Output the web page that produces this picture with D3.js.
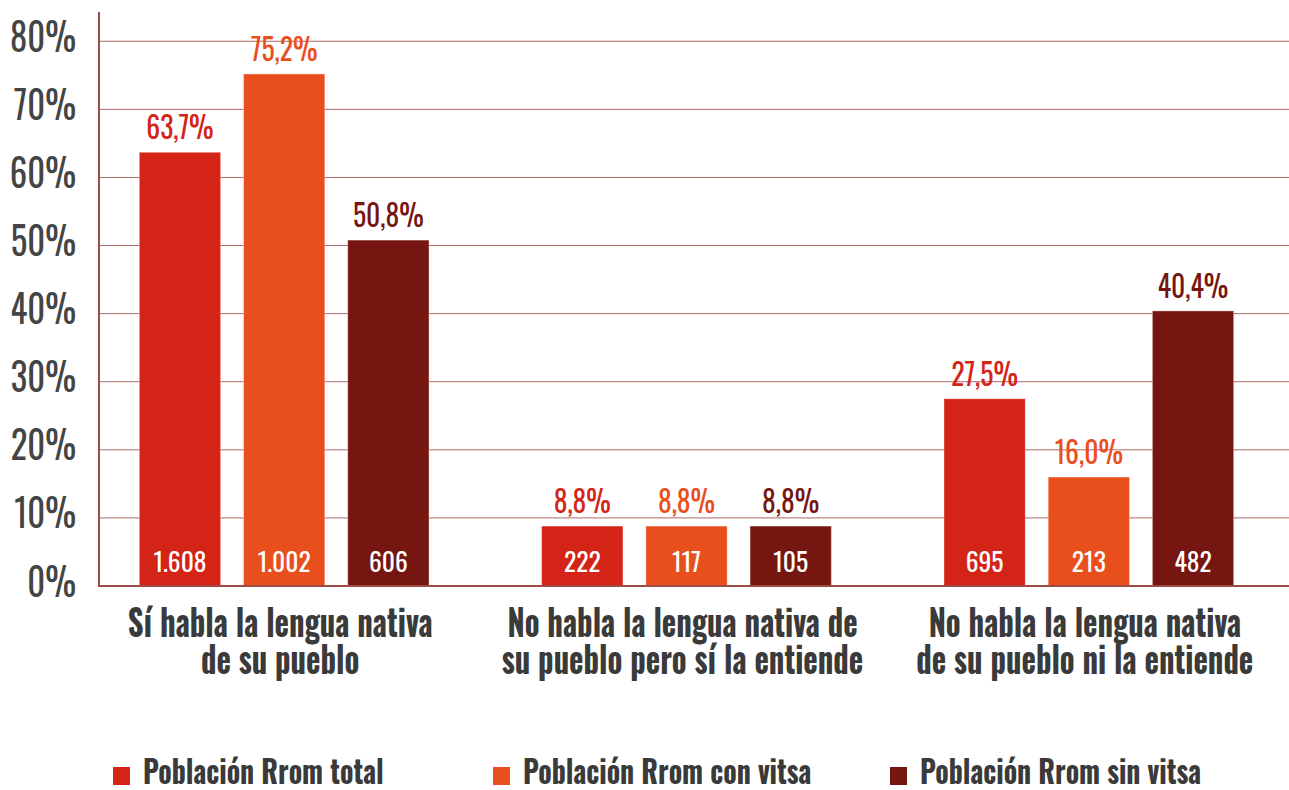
<!DOCTYPE html>
<html>
<head>
<meta charset="utf-8">
<script src="https://cdn.jsdelivr.net/npm/d3@7"></script>
<style>
  body { margin: 0; background: #fff; }
  svg text { font-family: "Oswald", "Roboto Condensed", "Liberation Sans Narrow", Roboto, sans-serif; }
</style>
</head>
<body>
<div id="chart"></div>
<script>
const categories = [
  ['Sí habla la lengua nativa', 'de su pueblo'],
  ['No habla la lengua nativa de', 'su pueblo pero sí la entiende'],
  ['No habla la lengua nativa', 'de su pueblo ni la entiende']
];
const seriesNames = ['Población Rrom total', 'Población Rrom con vitsa', 'Población Rrom sin vitsa'];
const seriesColors = ['#d42317', '#e94f1c', '#761611'];
// percent per category, one array per series
const pctTotal = [63.7, 8.8, 27.5];
const pctVitsa = [75.2, 8.8, 16.0];
const pctSinVitsa = [50.8, 8.8, 40.4];
// counts shown inside the bars
const nTotal = [1608, 222, 695];
const nVitsa = [1002, 117, 213];
const nSinVitsa = [606, 105, 482];
const yTicks = [0, 10, 20, 30, 40, 50, 60, 70, 80];

const width = 1289, height = 790;

const svg = d3.select('#chart').append('svg')
  .attr('width', width)
  .attr('height', height);

const pcts = [pctTotal, pctVitsa, pctSinVitsa];
const counts = [nTotal, nVitsa, nSinVitsa];

const data = categories.map((c, i) => ({
  cat: i,
  bars: pcts.map((p, s) => ({ s: s, pct: p[i], n: counts[s][i] }))
}));

const x0 = d3.scaleBand().domain(d3.range(categories.length))
  .range([83, 1290]).paddingInner(0.28).paddingOuter(0.14);
const x1 = d3.scaleBand().domain(d3.range(seriesNames.length))
  .range([0, x0.bandwidth()]).paddingInner(0.22);
const y = d3.scaleLinear().domain([0, 84.3]).range([586, 12]);

const fmtPct = d => d.toFixed(1).replace('.', ',') + '%';
const fmtN = d => d3.format(',')(d).replace(/,/g, '.');

// grid
svg.append('g')
  .selectAll('line')
  .data(yTicks.filter(d => d > 0))
  .join('line')
  .attr('x1', 99).attr('x2', width)
  .attr('y1', d => y(d)).attr('y2', d => y(d))
  .attr('stroke', '#a86a66').attr('stroke-width', 1);

// y axis
const yAxis = svg.append('g')
  .attr('transform', 'translate(99,0)')
  .call(d3.axisLeft(y).tickValues(yTicks).tickSize(0).tickFormat(d => d + '%'));
yAxis.select('.domain').remove();
yAxis.selectAll('text')
  .attr('x', null).attr('dy', null)
  .attr('transform', 'translate(-23,10) scale(0.9,1)')
  .attr('fill', '#444')
  .style('font-size', '38.5px')
  .style('text-anchor', 'end');

// bars
const groups = svg.append('g').selectAll('g')
  .data(data)
  .join('g')
  .attr('transform', d => `translate(${x0(d.cat)},0)`);

groups.selectAll('rect')
  .data(d => d.bars)
  .join('rect')
  .attr('x', d => x1(d.s))
  .attr('y', d => y(d.pct))
  .attr('width', x1.bandwidth())
  .attr('height', d => y(0) - y(d.pct))
  .attr('fill', d => seriesColors[d.s])
  .attr('stroke', '#fff').attr('stroke-opacity', 0.35).attr('stroke-width', 1);

groups.selectAll('text.pct')
  .data(d => d.bars)
  .join('text')
  .attr('class', 'pct')
  .attr('transform', d => `translate(${x1(d.s) + x1.bandwidth() / 2},${y(d.pct) - 13}) scale(0.89,1)`)
  .attr('text-anchor', 'middle')
  .attr('fill', d => seriesColors[d.s])
  .style('font-size', '31px')
  .text(d => fmtPct(d.pct));

groups.selectAll('text.n')
  .data(d => d.bars)
  .join('text')
  .attr('class', 'n')
  .attr('transform', d => `translate(${x1(d.s) + x1.bandwidth() / 2},${y(0) - 14})`)
  .attr('text-anchor', 'middle')
  .attr('fill', '#fff')
  .style('font-size', '25.5px')
  .text(d => fmtN(d.n));

// axes lines
svg.append('line')
  .attr('x1', 99).attr('x2', 99).attr('y1', y.range()[1]).attr('y2', y(0))
  .attr('stroke', '#9c4b46').attr('stroke-width', 2);
svg.append('line')
  .attr('x1', 98).attr('x2', width).attr('y1', y(0)).attr('y2', y(0))
  .attr('stroke', '#9c4b46').attr('stroke-width', 2);

// category labels
const catLabels = svg.append('g').selectAll('text')
  .data(categories)
  .join('text')
  .attr('transform', (d, i) => `translate(${x0(i) + x0.bandwidth() / 2 - 4},637) scale(0.83,1)`)
  .attr('text-anchor', 'middle')
  .attr('fill', '#3a3a3a')
  .style('font-size', '37px')
  .style('font-weight', 'bold');
catLabels.selectAll('tspan')
  .data(d => d)
  .join('tspan')
  .attr('x', 0)
  .attr('dy', (d, i) => i === 0 ? 0 : 37)
  .text(d => d);

// legend
const legendX = [113, 493, 890];
const legend = svg.append('g').selectAll('g')
  .data(seriesNames)
  .join('g')
  .attr('transform', (d, i) => `translate(${legendX[i]},0)`);
legend.append('rect')
  .attr('x', 0).attr('y', 767).attr('width', 17).attr('height', 18)
  .attr('fill', (d, i) => seriesColors[i]);
legend.append('text')
  .attr('transform', 'translate(30,784) scale(0.87,1)')
  .attr('fill', '#3a3a3a')
  .style('font-size', '32px')
  .style('font-weight', 'bold')
  .text(d => d);
</script>
</body>
</html>
